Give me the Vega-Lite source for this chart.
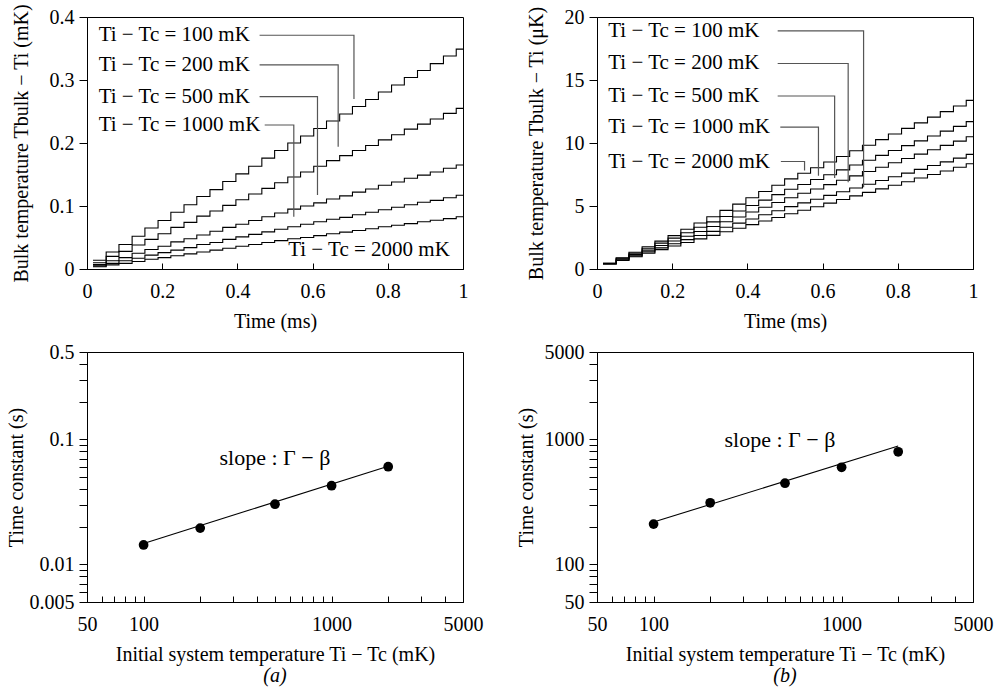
{
  "$schema": "https://vega.github.io/schema/vega-lite/v6.json",
  "padding": {"left": 5, "top": 3, "right": 3, "bottom": 3},
  "background": "white",
  "datasets": {
    "tl": [
      {"s":"100","t":0.016,"v":0.014},{"s":"100","t":0.051,"v":0.027},{"s":"100","t":0.085,"v":0.039},{"s":"100","t":0.120,"v":0.052},{"s":"100","t":0.154,"v":0.065},{"s":"100","t":0.189,"v":0.077},{"s":"100","t":0.223,"v":0.090},{"s":"100","t":0.258,"v":0.102},{"s":"100","t":0.292,"v":0.115},{"s":"100","t":0.327,"v":0.126},{"s":"100","t":0.361,"v":0.139},{"s":"100","t":0.396,"v":0.151},{"s":"100","t":0.430,"v":0.163},{"s":"100","t":0.465,"v":0.176},{"s":"100","t":0.499,"v":0.188},{"s":"100","t":0.534,"v":0.200},{"s":"100","t":0.568,"v":0.211},{"s":"100","t":0.603,"v":0.223},{"s":"100","t":0.637,"v":0.235},{"s":"100","t":0.672,"v":0.246},{"s":"100","t":0.706,"v":0.258},{"s":"100","t":0.741,"v":0.269},{"s":"100","t":0.775,"v":0.281},{"s":"100","t":0.810,"v":0.292},{"s":"100","t":0.844,"v":0.304},{"s":"100","t":0.879,"v":0.315},{"s":"100","t":0.913,"v":0.326},{"s":"100","t":0.948,"v":0.338},{"s":"100","t":0.982,"v":0.349},{"s":"100","t":1.0,"v":0.349},
      {"s":"200","t":0.016,"v":0.010},{"s":"200","t":0.051,"v":0.020},{"s":"200","t":0.085,"v":0.028},{"s":"200","t":0.120,"v":0.038},{"s":"200","t":0.154,"v":0.047},{"s":"200","t":0.189,"v":0.056},{"s":"200","t":0.223,"v":0.066},{"s":"200","t":0.258,"v":0.074},{"s":"200","t":0.292,"v":0.084},{"s":"200","t":0.327,"v":0.092},{"s":"200","t":0.361,"v":0.101},{"s":"200","t":0.396,"v":0.110},{"s":"200","t":0.430,"v":0.119},{"s":"200","t":0.465,"v":0.128},{"s":"200","t":0.499,"v":0.137},{"s":"200","t":0.534,"v":0.146},{"s":"200","t":0.568,"v":0.154},{"s":"200","t":0.603,"v":0.163},{"s":"200","t":0.637,"v":0.172},{"s":"200","t":0.672,"v":0.180},{"s":"200","t":0.706,"v":0.188},{"s":"200","t":0.741,"v":0.196},{"s":"200","t":0.775,"v":0.205},{"s":"200","t":0.810,"v":0.213},{"s":"200","t":0.844,"v":0.222},{"s":"200","t":0.879,"v":0.230},{"s":"200","t":0.913,"v":0.238},{"s":"200","t":0.948,"v":0.247},{"s":"200","t":0.982,"v":0.255},{"s":"200","t":1.0,"v":0.255},
      {"s":"500","t":0.016,"v":0.007},{"s":"500","t":0.051,"v":0.013},{"s":"500","t":0.085,"v":0.018},{"s":"500","t":0.120,"v":0.025},{"s":"500","t":0.154,"v":0.031},{"s":"500","t":0.189,"v":0.036},{"s":"500","t":0.223,"v":0.043},{"s":"500","t":0.258,"v":0.048},{"s":"500","t":0.292,"v":0.054},{"s":"500","t":0.327,"v":0.060},{"s":"500","t":0.361,"v":0.066},{"s":"500","t":0.396,"v":0.071},{"s":"500","t":0.430,"v":0.077},{"s":"500","t":0.465,"v":0.083},{"s":"500","t":0.499,"v":0.089},{"s":"500","t":0.534,"v":0.095},{"s":"500","t":0.568,"v":0.100},{"s":"500","t":0.603,"v":0.105},{"s":"500","t":0.637,"v":0.111},{"s":"500","t":0.672,"v":0.116},{"s":"500","t":0.706,"v":0.122},{"s":"500","t":0.741,"v":0.127},{"s":"500","t":0.775,"v":0.133},{"s":"500","t":0.810,"v":0.138},{"s":"500","t":0.844,"v":0.144},{"s":"500","t":0.879,"v":0.149},{"s":"500","t":0.913,"v":0.154},{"s":"500","t":0.948,"v":0.160},{"s":"500","t":0.982,"v":0.165},{"s":"500","t":1.0,"v":0.165},
      {"s":"1000","t":0.016,"v":0.005},{"s":"1000","t":0.051,"v":0.009},{"s":"1000","t":0.085,"v":0.013},{"s":"1000","t":0.120,"v":0.017},{"s":"1000","t":0.154,"v":0.022},{"s":"1000","t":0.189,"v":0.026},{"s":"1000","t":0.223,"v":0.030},{"s":"1000","t":0.258,"v":0.034},{"s":"1000","t":0.292,"v":0.039},{"s":"1000","t":0.327,"v":0.042},{"s":"1000","t":0.361,"v":0.047},{"s":"1000","t":0.396,"v":0.051},{"s":"1000","t":0.430,"v":0.055},{"s":"1000","t":0.465,"v":0.059},{"s":"1000","t":0.499,"v":0.063},{"s":"1000","t":0.534,"v":0.067},{"s":"1000","t":0.568,"v":0.071},{"s":"1000","t":0.603,"v":0.075},{"s":"1000","t":0.637,"v":0.079},{"s":"1000","t":0.672,"v":0.082},{"s":"1000","t":0.706,"v":0.086},{"s":"1000","t":0.741,"v":0.090},{"s":"1000","t":0.775,"v":0.094},{"s":"1000","t":0.810,"v":0.098},{"s":"1000","t":0.844,"v":0.102},{"s":"1000","t":0.879,"v":0.106},{"s":"1000","t":0.913,"v":0.109},{"s":"1000","t":0.948,"v":0.113},{"s":"1000","t":0.982,"v":0.117},{"s":"1000","t":1.0,"v":0.117},
      {"s":"2000","t":0.016,"v":0.0035},{"s":"2000","t":0.051,"v":0.0065},{"s":"2000","t":0.085,"v":0.009},{"s":"2000","t":0.120,"v":0.012},{"s":"2000","t":0.154,"v":0.0155},{"s":"2000","t":0.189,"v":0.018},{"s":"2000","t":0.223,"v":0.021},{"s":"2000","t":0.258,"v":0.024},{"s":"2000","t":0.292,"v":0.027},{"s":"2000","t":0.327,"v":0.030},{"s":"2000","t":0.361,"v":0.033},{"s":"2000","t":0.396,"v":0.036},{"s":"2000","t":0.430,"v":0.039},{"s":"2000","t":0.465,"v":0.042},{"s":"2000","t":0.499,"v":0.045},{"s":"2000","t":0.534,"v":0.048},{"s":"2000","t":0.568,"v":0.050},{"s":"2000","t":0.603,"v":0.053},{"s":"2000","t":0.637,"v":0.056},{"s":"2000","t":0.672,"v":0.0585},{"s":"2000","t":0.706,"v":0.061},{"s":"2000","t":0.741,"v":0.064},{"s":"2000","t":0.775,"v":0.067},{"s":"2000","t":0.810,"v":0.0695},{"s":"2000","t":0.844,"v":0.072},{"s":"2000","t":0.879,"v":0.075},{"s":"2000","t":0.913,"v":0.0775},{"s":"2000","t":0.948,"v":0.080},{"s":"2000","t":0.982,"v":0.083},{"s":"2000","t":1.0,"v":0.083}
    ],
    "tr": [
      {"s":"2000","t":0.016,"v":0.45},{"s":"2000","t":0.051,"v":0.89},{"s":"2000","t":0.085,"v":1.33},{"s":"2000","t":0.120,"v":1.77},{"s":"2000","t":0.154,"v":2.21},{"s":"2000","t":0.189,"v":2.65},{"s":"2000","t":0.223,"v":3.15},{"s":"2000","t":0.258,"v":3.65},{"s":"2000","t":0.292,"v":4.15},{"s":"2000","t":0.327,"v":4.65},{"s":"2000","t":0.361,"v":5.15},{"s":"2000","t":0.396,"v":5.65},{"s":"2000","t":0.430,"v":6.15},{"s":"2000","t":0.465,"v":6.65},{"s":"2000","t":0.499,"v":7.15},{"s":"2000","t":0.534,"v":7.60},{"s":"2000","t":0.568,"v":8.04},{"s":"2000","t":0.603,"v":8.49},{"s":"2000","t":0.637,"v":8.93},{"s":"2000","t":0.672,"v":9.38},{"s":"2000","t":0.706,"v":9.82},{"s":"2000","t":0.741,"v":10.27},{"s":"2000","t":0.775,"v":10.71},{"s":"2000","t":0.810,"v":11.16},{"s":"2000","t":0.844,"v":11.60},{"s":"2000","t":0.879,"v":12.05},{"s":"2000","t":0.913,"v":12.49},{"s":"2000","t":0.948,"v":12.94},{"s":"2000","t":0.982,"v":13.38},{"s":"2000","t":1.0,"v":13.38},
      {"s":"1000","t":0.016,"v":0.45},{"s":"1000","t":0.051,"v":0.85},{"s":"1000","t":0.085,"v":1.25},{"s":"1000","t":0.120,"v":1.65},{"s":"1000","t":0.154,"v":2.05},{"s":"1000","t":0.189,"v":2.45},{"s":"1000","t":0.223,"v":2.88},{"s":"1000","t":0.258,"v":3.31},{"s":"1000","t":0.292,"v":3.74},{"s":"1000","t":0.327,"v":4.17},{"s":"1000","t":0.361,"v":4.60},{"s":"1000","t":0.396,"v":5.04},{"s":"1000","t":0.430,"v":5.47},{"s":"1000","t":0.465,"v":5.90},{"s":"1000","t":0.499,"v":6.33},{"s":"1000","t":0.534,"v":6.71},{"s":"1000","t":0.568,"v":7.10},{"s":"1000","t":0.603,"v":7.48},{"s":"1000","t":0.637,"v":7.87},{"s":"1000","t":0.672,"v":8.25},{"s":"1000","t":0.706,"v":8.63},{"s":"1000","t":0.741,"v":9.02},{"s":"1000","t":0.775,"v":9.40},{"s":"1000","t":0.810,"v":9.79},{"s":"1000","t":0.844,"v":10.17},{"s":"1000","t":0.879,"v":10.55},{"s":"1000","t":0.913,"v":10.94},{"s":"1000","t":0.948,"v":11.32},{"s":"1000","t":0.982,"v":11.70},{"s":"1000","t":1.0,"v":11.70},
      {"s":"500","t":0.016,"v":0.42},{"s":"500","t":0.051,"v":0.78},{"s":"500","t":0.085,"v":1.14},{"s":"500","t":0.120,"v":1.50},{"s":"500","t":0.154,"v":1.86},{"s":"500","t":0.189,"v":2.22},{"s":"500","t":0.223,"v":2.60},{"s":"500","t":0.258,"v":2.98},{"s":"500","t":0.292,"v":3.37},{"s":"500","t":0.327,"v":3.75},{"s":"500","t":0.361,"v":4.13},{"s":"500","t":0.396,"v":4.52},{"s":"500","t":0.430,"v":4.90},{"s":"500","t":0.465,"v":5.28},{"s":"500","t":0.499,"v":5.66},{"s":"500","t":0.534,"v":6.01},{"s":"500","t":0.568,"v":6.35},{"s":"500","t":0.603,"v":6.70},{"s":"500","t":0.637,"v":7.04},{"s":"500","t":0.672,"v":7.39},{"s":"500","t":0.706,"v":7.74},{"s":"500","t":0.741,"v":8.08},{"s":"500","t":0.775,"v":8.43},{"s":"500","t":0.810,"v":8.77},{"s":"500","t":0.844,"v":9.12},{"s":"500","t":0.879,"v":9.46},{"s":"500","t":0.913,"v":9.81},{"s":"500","t":0.948,"v":10.15},{"s":"500","t":0.982,"v":10.50},{"s":"500","t":1.0,"v":10.50},
      {"s":"200","t":0.016,"v":0.40},{"s":"200","t":0.051,"v":0.72},{"s":"200","t":0.085,"v":1.04},{"s":"200","t":0.120,"v":1.36},{"s":"200","t":0.154,"v":1.68},{"s":"200","t":0.189,"v":2.00},{"s":"200","t":0.223,"v":2.33},{"s":"200","t":0.258,"v":2.66},{"s":"200","t":0.292,"v":2.99},{"s":"200","t":0.327,"v":3.31},{"s":"200","t":0.361,"v":3.64},{"s":"200","t":0.396,"v":3.97},{"s":"200","t":0.430,"v":4.30},{"s":"200","t":0.465,"v":4.62},{"s":"200","t":0.499,"v":4.95},{"s":"200","t":0.534,"v":5.25},{"s":"200","t":0.568,"v":5.54},{"s":"200","t":0.603,"v":5.84},{"s":"200","t":0.637,"v":6.13},{"s":"200","t":0.672,"v":6.43},{"s":"200","t":0.706,"v":6.73},{"s":"200","t":0.741,"v":7.02},{"s":"200","t":0.775,"v":7.32},{"s":"200","t":0.810,"v":7.61},{"s":"200","t":0.844,"v":7.91},{"s":"200","t":0.879,"v":8.21},{"s":"200","t":0.913,"v":8.50},{"s":"200","t":0.948,"v":8.80},{"s":"200","t":0.982,"v":9.10},{"s":"200","t":1.0,"v":9.10},
      {"s":"100","t":0.016,"v":0.40},{"s":"100","t":0.051,"v":0.68},{"s":"100","t":0.085,"v":0.97},{"s":"100","t":0.120,"v":1.25},{"s":"100","t":0.154,"v":1.54},{"s":"100","t":0.189,"v":1.82},{"s":"100","t":0.223,"v":2.10},{"s":"100","t":0.258,"v":2.39},{"s":"100","t":0.292,"v":2.67},{"s":"100","t":0.327,"v":2.96},{"s":"100","t":0.361,"v":3.24},{"s":"100","t":0.396,"v":3.52},{"s":"100","t":0.430,"v":3.81},{"s":"100","t":0.465,"v":4.09},{"s":"100","t":0.499,"v":4.38},{"s":"100","t":0.534,"v":4.66},{"s":"100","t":0.568,"v":4.94},{"s":"100","t":0.603,"v":5.23},{"s":"100","t":0.637,"v":5.51},{"s":"100","t":0.672,"v":5.80},{"s":"100","t":0.706,"v":6.08},{"s":"100","t":0.741,"v":6.36},{"s":"100","t":0.775,"v":6.65},{"s":"100","t":0.810,"v":6.93},{"s":"100","t":0.844,"v":7.22},{"s":"100","t":0.879,"v":7.50},{"s":"100","t":0.913,"v":7.78},{"s":"100","t":0.948,"v":8.07},{"s":"100","t":0.982,"v":8.35},{"s":"100","t":1.0,"v":8.35}
    ],
    "ltl": [
      {"s":"100","p":1,"t":0.459,"v":0.371},{"s":"100","p":2,"t":0.710,"v":0.371},{"s":"100","p":3,"t":0.710,"v":0.270},
      {"s":"200","p":1,"t":0.459,"v":0.324},{"s":"200","p":2,"t":0.668,"v":0.324},{"s":"200","p":3,"t":0.668,"v":0.194},
      {"s":"500","p":1,"t":0.459,"v":0.2735},{"s":"500","p":2,"t":0.613,"v":0.2735},{"s":"500","p":3,"t":0.613,"v":0.1175},
      {"s":"1000","p":1,"t":0.4726,"v":0.2286},{"s":"1000","p":2,"t":0.550,"v":0.2286},{"s":"1000","p":3,"t":0.550,"v":0.083}
    ],
    "ltr": [
      {"s":"100","p":1,"t":0.4805,"v":18.9},{"s":"100","p":2,"t":0.709,"v":18.9},{"s":"100","p":3,"t":0.709,"v":6.48},
      {"s":"200","p":1,"t":0.4805,"v":16.31},{"s":"200","p":2,"t":0.668,"v":16.31},{"s":"200","p":3,"t":0.668,"v":6.88},
      {"s":"500","p":1,"t":0.4805,"v":13.73},{"s":"500","p":2,"t":0.632,"v":13.73},{"s":"500","p":3,"t":0.632,"v":7.22},
      {"s":"1000","p":1,"t":0.4875,"v":11.26},{"s":"1000","p":2,"t":0.589,"v":11.26},{"s":"1000","p":3,"t":0.589,"v":7.41},
      {"s":"2000","p":1,"t":0.489,"v":8.53},{"s":"2000","p":2,"t":0.552,"v":8.53},{"s":"2000","p":3,"t":0.552,"v":7.81}
    ],
    "labtl": [
      {"t":0.031,"v":0.371,"label":"Ti − Tc = 100 mK"},
      {"t":0.031,"v":0.324,"label":"Ti − Tc = 200 mK"},
      {"t":0.031,"v":0.2735,"label":"Ti − Tc = 500 mK"},
      {"t":0.031,"v":0.2286,"label":"Ti − Tc = 1000 mK"},
      {"t":0.535,"v":0.0306,"label":"Ti − Tc = 2000 mK"}
    ],
    "labtr": [
      {"t":0.030,"v":18.9,"label":"Ti − Tc = 100 mK"},
      {"t":0.030,"v":16.31,"label":"Ti − Tc = 200 mK"},
      {"t":0.030,"v":13.73,"label":"Ti − Tc = 500 mK"},
      {"t":0.030,"v":11.26,"label":"Ti − Tc = 1000 mK"},
      {"t":0.030,"v":8.53,"label":"Ti − Tc = 2000 mK"}
    ],
    "bl": [
      {"x":100,"y":0.0143},{"x":200,"y":0.0195},{"x":500,"y":0.0303},{"x":1000,"y":0.0426},{"x":2000,"y":0.0604}
    ],
    "br": [
      {"x":100,"y":210},{"x":200,"y":311},{"x":500,"y":446},{"x":1000,"y":598},{"x":2000,"y":796}
    ],
    "fitl": [{"x":100,"y":0.0147},{"x":2000,"y":0.061}],
    "fitr": [{"x":100,"y":218},{"x":2000,"y":885}],
    "slopel": [{"x":500,"y":0.0705,"label":"slope : Γ − β"}],
    "sloper": [{"x":470,"y":988,"label":"slope : Γ − β"}]
  },
  "concat": [
    {
      "width": 376, "height": 252,
      "encoding": {
        "x": {"field": "t", "type": "quantitative", "scale": {"domain": [0, 1], "nice": false, "zero": false},
              "axis": {"title": "Time (ms)", "values": [0, 0.2, 0.4, 0.6, 0.8, 1], "format": "~g"}},
        "y": {"field": "v", "type": "quantitative", "scale": {"domain": [0, 0.4], "nice": false},
              "axis": {"title": "Bulk temperature Tbulk − Ti (mK)", "values": [0, 0.1, 0.2, 0.3, 0.4], "format": "~g", "titlePadding": 18}}
      },
      "layer": [
        {"data": {"name": "tl"}, "mark": {"type": "line", "interpolate": "step-after", "color": "black", "strokeWidth": 1.1},
         "encoding": {"detail": {"field": "s"}}},
        {"data": {"name": "ltl"}, "mark": {"type": "line", "color": "#555555", "strokeWidth": 1.2},
         "encoding": {"detail": {"field": "s"}, "order": {"field": "p", "type": "quantitative"}}},
        {"data": {"name": "labtl"}, "mark": {"type": "text", "align": "left", "baseline": "middle", "fontSize": 21, "color": "black"},
         "encoding": {"text": {"field": "label"}}}
      ]
    },
    {
      "width": 376, "height": 252,
      "encoding": {
        "x": {"field": "t", "type": "quantitative", "scale": {"domain": [0, 1], "nice": false, "zero": false},
              "axis": {"title": "Time (ms)", "values": [0, 0.2, 0.4, 0.6, 0.8, 1], "format": "~g"}},
        "y": {"field": "v", "type": "quantitative", "scale": {"domain": [0, 20], "nice": false},
              "axis": {"title": "Bulk temperature Tbulk − Ti (μK)", "values": [0, 5, 10, 15, 20], "format": "~g", "titlePadding": 18}}
      },
      "layer": [
        {"data": {"name": "tr"}, "mark": {"type": "line", "interpolate": "step-after", "color": "black", "strokeWidth": 1.1},
         "encoding": {"detail": {"field": "s"}}},
        {"data": {"name": "ltr"}, "mark": {"type": "line", "color": "#555555", "strokeWidth": 1.2},
         "encoding": {"detail": {"field": "s"}, "order": {"field": "p", "type": "quantitative"}}},
        {"data": {"name": "labtr"}, "mark": {"type": "text", "align": "left", "baseline": "middle", "fontSize": 21, "color": "black"},
         "encoding": {"text": {"field": "label"}}}
      ]
    },
    {
      "width": 376, "height": 250,
      "title": {"text": "(a)", "orient": "bottom", "fontStyle": "italic", "fontWeight": "normal", "fontSize": 20, "font": "Liberation Serif", "color": "black", "offset": 2},
      "encoding": {
        "x": {"field": "x", "type": "quantitative", "scale": {"type": "log", "domain": [50, 5000], "nice": false},
              "axis": {"title": "Initial system temperature Ti − Tc (mK)", "values": [50,60,70,80,90,100,200,300,400,500,600,700,800,900,1000,2000,3000,4000,5000], "format": "d",
                       "labelExpr": "datum.value == 50 || datum.value == 100 || datum.value == 1000 || datum.value == 5000 ? datum.label : ''"}},
        "y": {"field": "y", "type": "quantitative", "scale": {"type": "log", "domain": [0.005, 0.5], "nice": false},
              "axis": {"title": "Time constant (s)", "values": [0.005,0.006,0.007,0.008,0.009,0.01,0.02,0.03,0.04,0.05,0.06,0.07,0.08,0.09,0.1,0.2,0.3,0.4,0.5], "format": "~g", "titlePadding": 3,
                       "labelExpr": "datum.value == 0.005 || datum.value == 0.01 || datum.value == 0.1 || datum.value == 0.5 ? datum.label : ''"}}
      },
      "layer": [
        {"data": {"name": "fitl"}, "mark": {"type": "line", "color": "black", "strokeWidth": 1.1}, "encoding": {}},
        {"data": {"name": "bl"}, "mark": {"type": "point", "filled": true, "color": "black", "opacity": 1, "size": 95}},
        {"data": {"name": "slopel"}, "mark": {"type": "text", "align": "center", "baseline": "middle", "fontSize": 22, "color": "black"},
         "encoding": {"text": {"field": "label"}}}
      ]
    },
    {
      "width": 376, "height": 250,
      "title": {"text": "(b)", "orient": "bottom", "fontStyle": "italic", "fontWeight": "normal", "fontSize": 20, "font": "Liberation Serif", "color": "black", "offset": 2},
      "encoding": {
        "x": {"field": "x", "type": "quantitative", "scale": {"type": "log", "domain": [50, 5000], "nice": false},
              "axis": {"title": "Initial system temperature Ti − Tc (mK)", "values": [50,60,70,80,90,100,200,300,400,500,600,700,800,900,1000,2000,3000,4000,5000], "format": "d",
                       "labelExpr": "datum.value == 50 || datum.value == 100 || datum.value == 1000 || datum.value == 5000 ? datum.label : ''"}},
        "y": {"field": "y", "type": "quantitative", "scale": {"type": "log", "domain": [50, 5000], "nice": false},
              "axis": {"title": "Time constant (s)", "values": [50,60,70,80,90,100,200,300,400,500,600,700,800,900,1000,2000,3000,4000,5000], "format": "d", "titlePadding": 8,
                       "labelExpr": "datum.value == 50 || datum.value == 100 || datum.value == 1000 || datum.value == 5000 ? datum.label : ''"}}
      },
      "layer": [
        {"data": {"name": "fitr"}, "mark": {"type": "line", "color": "black", "strokeWidth": 1.1}, "encoding": {}},
        {"data": {"name": "br"}, "mark": {"type": "point", "filled": true, "color": "black", "opacity": 1, "size": 95}},
        {"data": {"name": "sloper"}, "mark": {"type": "text", "align": "center", "baseline": "middle", "fontSize": 22, "color": "black"},
         "encoding": {"text": {"field": "label"}}}
      ]
    }
  ],
  "columns": 2,
  "spacing": {"row": 83, "column": 134},
  "bounds": "flush",
  "config": {
    "font": "Liberation Serif",
    "view": {"stroke": "black", "strokeWidth": 1},
    "axis": {
      "labelFont": "Liberation Serif", "labelFontSize": 20, "labelColor": "black",
      "titleFont": "Liberation Serif", "titleFontSize": 20, "titleFontWeight": "normal", "titleColor": "black",
      "domainColor": "black", "tickColor": "black", "grid": false,
      "labelOverlap": false, "labelFlush": false
    },
    "axisX": {"tickSize": -6, "labelPadding": 18, "titlePadding": 10},
    "axisY": {"tickSize": 8, "labelPadding": 5},
    "text": {"font": "Liberation Serif"}
  }
}
